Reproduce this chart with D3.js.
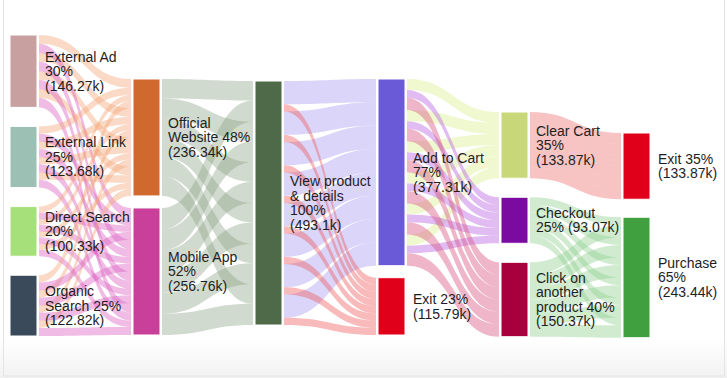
<!DOCTYPE html>
<html><head><meta charset="utf-8">
<script src="https://cdn.jsdelivr.net/npm/d3@7"></script>
<style>
html,body{margin:0;padding:0;background:#fff;}
svg{display:block;font-family:"Liberation Sans",Arial,sans-serif;}
</style>
</head><body>
<svg id="chart" width="727" height="378"></svg>
<script>
// ---------------- DATA ----------------
const nodeNames = ["External Ad","External Link","Direct Search","Organic Search",
  "Official Website","Mobile App","View product & details","Add to Cart","Exit",
  "Clear Cart","Checkout","Click on another product","Exit (final)","Purchase"];
const nodeStage = [0,0,0,0,1,1,2,3,3,4,4,4,5,5];
const nodeLabels = [
  ["External Ad","30%","(146.27k)"],
  ["External Link","25%","(123.68k)"],
  ["Direct Search","20%","(100.33k)"],
  ["Organic","Search 25%","(122.82k)"],
  ["Official","Website 48%","(236.34k)"],
  ["Mobile App","52%","(256.76k)"],
  ["View product","& details","100%","(493.1k)"],
  ["Add to Cart","77%","(377.31k)"],
  ["Exit 23%","(115.79k)"],
  ["Clear Cart","35%","(133.87k)"],
  ["Checkout","25% (93.07k)"],
  ["Click on","another","product 40%","(150.37k)"],
  ["Exit 35%","(133.87k)"],
  ["Purchase","65%","(243.44k)"]
];
const linkSource = [0,0,1,1,2,2,3,3, 4,5, 6,6, 7,7,7, 9,10,11];
const linkTarget = [4,5,4,5,4,5,4,5, 6,6, 7,8, 9,10,11, 12,13,13];
const linkValue  = [70.2,76.07, 59.4,64.28, 48.2,52.13, 58.54,64.28,
                    236.34,256.76, 377.31,115.79, 133.87,93.07,150.37,
                    133.87,93.07,150.37];

// ---------------- STYLE / LAYOUT ----------------
const nodeColor = ["#c9a0a0","#9cc0b4","#a6e07a","#3a4a5a","#d0692e","#c8409a",
  "#4e6a48","#6a5ad8","#e0001a","#c8d878","#7a0aa0","#a8003c","#e0001a","#40a040"];
const linkColorByTarget = {4:"#f3a877",5:"#dc5fc0",6:"#8fa88a",7:"#a89cf0",8:"#ee5a5a",
  9:"#dcee90",10:"#b860e0",11:"#d85080",12:"#ee7070",13:"#90d090"};
const colX = [10,133,255,378,501,623];
const colTop = [35,79,81,79,112,133];
const colGap = [19,12,0,12,19,18];
const strandsByStage = [4,6,8,6,6];
const nodeW = 27, linkGap = 2;

const svg = d3.select("#chart");

// frame
const defs = svg.append("defs");
const g1 = defs.append("linearGradient").attr("id","bot").attr("x1",0).attr("y1",0).attr("x2",0).attr("y2",1);
g1.append("stop").attr("offset","0").attr("stop-color","#ffffff");
g1.append("stop").attr("offset","1").attr("stop-color","#f1f1f1");
svg.append("rect").attr("x",0).attr("y",340).attr("width",727).attr("height",38).attr("fill","url(#bot)");
svg.append("rect").attr("x",3.5).attr("y",-1).attr("width",721).attr("height",377)
  .attr("fill","none").attr("stroke","#e4e4e4");

// value scale
const ky = d3.scaleLinear().domain([0,493.1]).range([0,244]);

// build nodes
const nodes = nodeNames.map((n,i)=>({id:i,name:n,stage:nodeStage[i],inL:[],outL:[]}));
const links = linkValue.map((v,i)=>({id:i,source:nodes[linkSource[i]],target:nodes[linkTarget[i]],value:v}));
links.forEach(l=>{l.source.outL.push(l); l.target.inL.push(l);});
nodes.forEach(n=>{
  n.value = Math.max(d3.sum(n.inL,l=>l.value), d3.sum(n.outL,l=>l.value));
  n.h = ky(n.value);
  n.x0 = colX[n.stage]; n.x1 = n.x0 + nodeW;
});
d3.range(6).forEach(s=>{
  let y = colTop[s];
  nodes.filter(n=>n.stage===s).forEach(n=>{ n.y0 = y; n.y1 = y + n.h; y = n.y1 + colGap[s]; });
});

// strands
const strands = [];
links.forEach(l=>{
  const N = strandsByStage[l.source.stage]; l.N = N;
  l.strands = d3.range(N).map(k=>{
    const s = {link:l,k:k,w:ky(l.value/N)}; strands.push(s); return s; });
});
nodes.forEach(n=>{
  const N = n.outL.length ? n.outL[0].N : 0;
  let y = n.y0;
  for (let k=0;k<N;k++) n.outL.forEach(l=>{ const s=l.strands[k]; s.sy=y; y+=s.w; });
  const M = n.inL.length ? n.inL[0].N : 0;
  y = n.y0;
  for (let k=0;k<M;k++) n.inL.forEach(l=>{ const s=l.strands[k]; s.ty=y; y+=s.w; });
});

function ribbon(s){
  const sx = s.link.source.x1 + linkGap, tx = s.link.target.x0 - linkGap;
  const mx = (sx+tx)/2;
  const a0=s.sy, a1=s.sy+s.w, b0=s.ty, b1=s.ty+s.w;
  return `M${sx},${a0}C${mx},${a0} ${mx},${b0} ${tx},${b0}L${tx},${b1}C${mx},${b1} ${mx},${a1} ${sx},${a1}Z`;
}

svg.append("g").selectAll("path").data(strands).join("path")
  .attr("d",ribbon)
  .attr("fill",d=>linkColorByTarget[d.link.target.id])
  .attr("fill-opacity",0.42);

svg.append("g").selectAll("rect").data(nodes).join("rect")
  .attr("x",d=>d.x0).attr("y",d=>d.y0).attr("width",nodeW).attr("height",d=>d.h)
  .attr("fill",d=>nodeColor[d.id]).attr("stroke","#ffffff").attr("stroke-width",1);

const lh = 14.5;
const lab = svg.append("g").attr("font-size","14px").attr("fill","#1e1e1e");
nodes.forEach(n=>{
  const lines = nodeLabels[n.id];
  const cy = (n.y0+n.y1)/2;
  const t = lab.append("text").attr("x",n.x1+8).attr("y",cy - (lines.length-1)*lh/2);
  lines.forEach((ln,i)=>t.append("tspan").attr("x",n.x1+8).attr("dy",i===0?"0.35em":lh).text(ln));
});
</script>
</body></html>
